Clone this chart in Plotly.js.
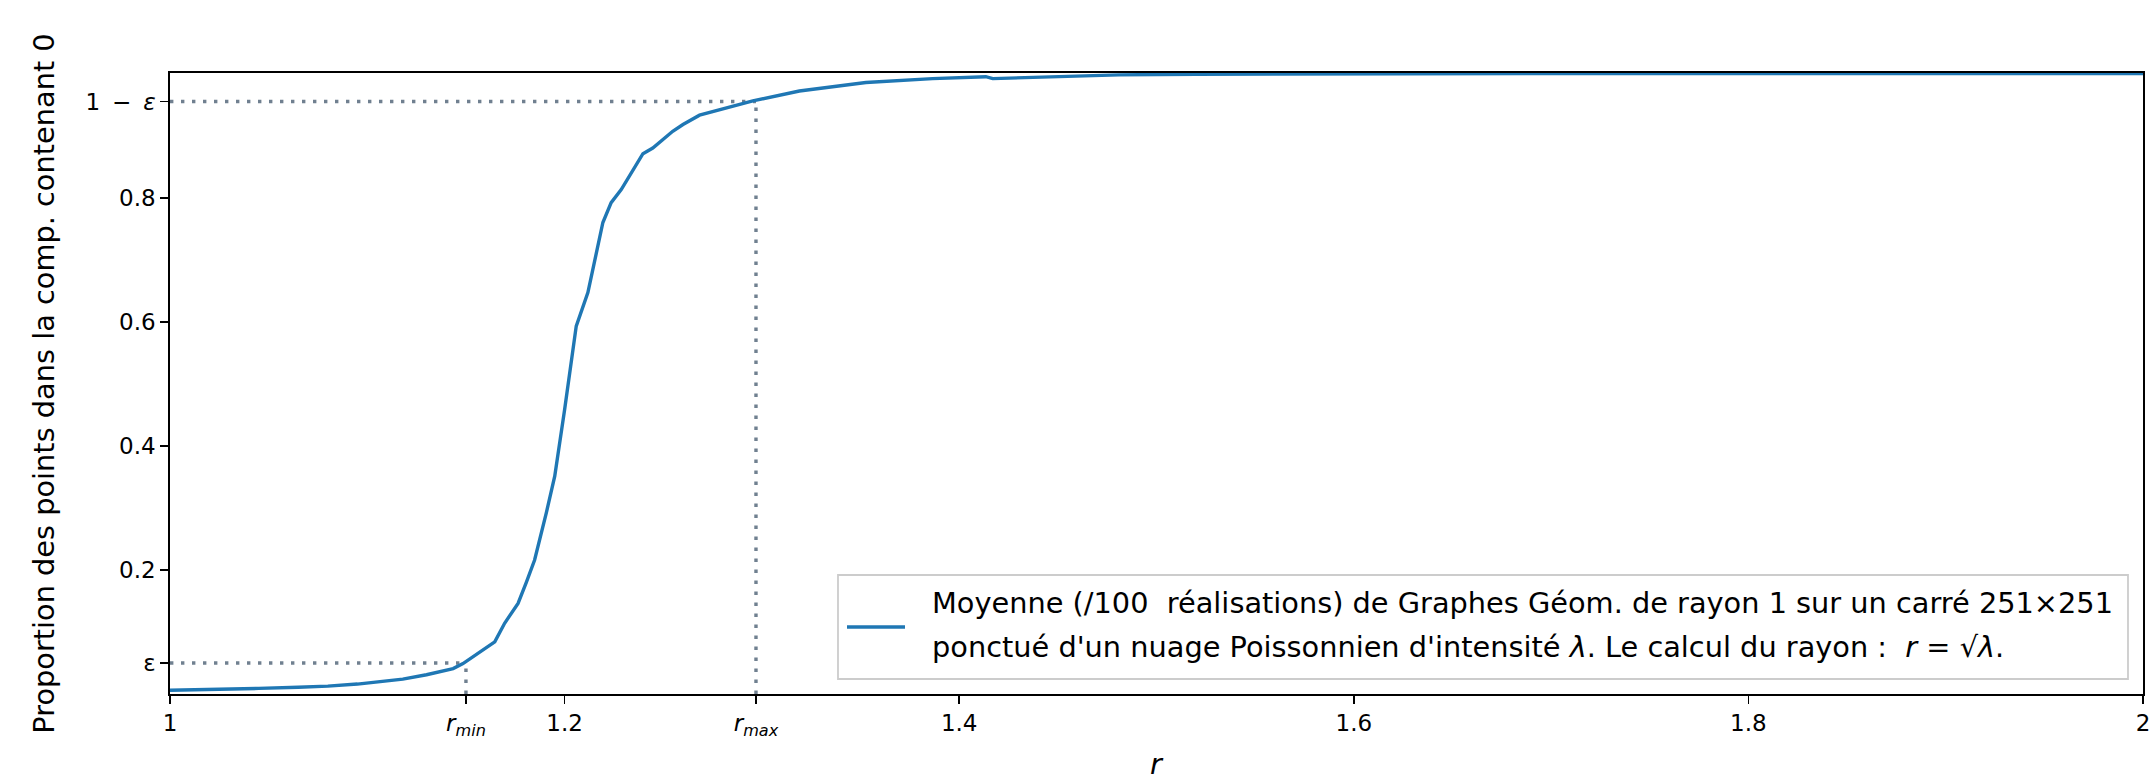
<!DOCTYPE html>
<html><head><meta charset="utf-8">
<script src="https://cdn.plot.ly/plotly-3.0.1.min.js"></script>
<style>html,body{margin:0;padding:0;background:#fff}</style>
</head><body><div id="chart" style="width:2150px;height:774px"></div>
<script>
// Data
const rValues = [1.000, 1.020, 1.045, 1.065, 1.080, 1.095, 1.105, 1.118, 1.130, 1.1435, 1.1485, 1.157, 1.1646, 1.1696, 1.1764, 1.1806, 1.1848, 1.1907, 1.195, 1.200, 1.2059, 1.2118, 1.2194, 1.2236, 1.2287, 1.2397, 1.2447, 1.2548, 1.2600, 1.2684, 1.2852, 1.2954, 1.3190, 1.3527, 1.3865, 1.4135, 1.4170, 1.4540, 1.4810, 1.5200, 1.5600, 1.6000, 1.7000, 1.8000, 1.9000, 2.0000];
const proportion = [0.006, 0.007, 0.009, 0.011, 0.0127, 0.016, 0.019, 0.024, 0.031, 0.041, 0.049, 0.068, 0.084, 0.114, 0.146, 0.180, 0.216, 0.2915, 0.351, 0.458, 0.593, 0.647, 0.760, 0.792, 0.813, 0.871, 0.880, 0.907, 0.918, 0.933, 0.948, 0.956, 0.972, 0.9856, 0.992, 0.995, 0.992, 0.996, 0.998, 0.999, 0.9995, 1.0, 1.0, 1.0, 1.0, 1.0];

const eps = 0.05;
const oneMinusEps = 0.955;
const rMin = 1.15;
const rMax = 1.297;

const xTickVals = [1, rMin, 1.2, rMax, 1.4, 1.6, 1.8, 2];
const xTickText = ['1', '<i>r<sub>min</sub></i>', '1.2', '<i>r<sub>max</sub></i>', '1.4', '1.6', '1.8', '2'];
const yTickVals = [eps, 0.2, 0.4, 0.6, 0.8, oneMinusEps];
const yTickText = ['ε', '0.2', '0.4', '0.6', '0.8', '1\u2009 − \u2009<i>ε</i>'];

const legendLine1 = 'Moyenne (/100  réalisations) de Graphes Géom. de rayon 1 sur un carré 251×251';
const legendLine2 = "ponctué d'un nuage Poissonnien d'intensité <i>λ</i>. Le calcul du rayon :  <i>r</i> = √<i>λ</i>.";
const yTitle = 'Proportion des points dans la comp. contenant 0';
const xTitle = '<i>r</i>';

// layout geometry (pixels)
const W = 2150, H = 774;
const L = 170, R = 2143, T = 73, B = 694;
const px = x => (x - L) / (R - L);
const py = y => (B - y) / (B - T);

const FONT = 'DejaVu Sans, sans-serif';
const FS = 23;       // tick labels
const FS_LEG = 28.8; // legend
const FS_TITLE = 28.8; // axis titles
const dotColor = 'rgb(112,128,144)';
const dotStyle = {color: dotColor, width: 3.4, dash: '3.4px,7.6px'};

const traces = [
  {x: [1, rMin], y: [eps, eps], mode: 'lines', line: dotStyle, showlegend: false, hoverinfo: 'skip'},
  {x: [rMin, rMin], y: [0, eps], mode: 'lines', line: dotStyle, showlegend: false, hoverinfo: 'skip'},
  {x: [1, rMax], y: [oneMinusEps, oneMinusEps], mode: 'lines', line: dotStyle, showlegend: false, hoverinfo: 'skip'},
  {x: [rMax, rMax], y: [0, oneMinusEps], mode: 'lines', line: dotStyle, showlegend: false, hoverinfo: 'skip'},
  {x: rValues, y: proportion, mode: 'lines', line: {color: '#1f77b4', width: 3.4}, showlegend: false, name: legendLine1}
];

const layout = {
  width: W, height: H,
  margin: {l: L, r: W - R, t: T, b: H - B, pad: 0},
  paper_bgcolor: '#fff', plot_bgcolor: '#fff',
  font: {family: FONT, size: FS, color: '#000'},
  xaxis: {
    range: [1, 2], tickmode: 'array', tickvals: xTickVals, ticktext: xTickText,
    showgrid: false, zeroline: false, showline: true, mirror: true, linecolor: '#000', linewidth: 1.8,
    ticks: 'outside', ticklen: 8, tickwidth: 1.8, tickcolor: '#000', ticklabeloverflow: 'allow',
    tickfont: {family: FONT, size: FS, color: '#000'}
  },
  yaxis: {
    range: [0, 1.001], tickmode: 'array', tickvals: yTickVals, ticktext: yTickText,
    showgrid: false, zeroline: false, showline: true, mirror: true, linecolor: '#000', linewidth: 1.8,
    ticks: 'outside', ticklen: 8, tickwidth: 1.8, tickcolor: '#000', ticklabeloverflow: 'allow',
    tickfont: {family: FONT, size: FS, color: '#000'},
    title: {text: yTitle, font: {family: FONT, size: FS_TITLE, color: '#000'}, standoff: 22}
  },
  shapes: [
    {type: 'rect', xref: 'paper', yref: 'paper', x0: px(838), x1: px(2128), y0: py(679), y1: py(575),
     line: {color: 'rgb(204,204,204)', width: 1.8}, fillcolor: 'rgba(255,255,255,0.8)', layer: 'above'},
    {type: 'line', xref: 'paper', yref: 'paper', x0: px(847), x1: px(905), y0: py(627), y1: py(627),
     line: {color: '#1f77b4', width: 3.4}, layer: 'above'}
  ],
  annotations: [
    {xref: 'paper', yref: 'paper', x: px(930), y: py(603), xanchor: 'left', yanchor: 'middle', showarrow: false,
     text: legendLine1, font: {family: FONT, size: FS_LEG, color: '#000'}},
    {xref: 'paper', yref: 'paper', x: px(930), y: py(647), xanchor: 'left', yanchor: 'middle', showarrow: false,
     text: legendLine2, font: {family: FONT, size: FS_LEG, color: '#000'}},
    {xref: 'paper', yref: 'paper', x: 0.5, y: py(764), xanchor: 'center', yanchor: 'middle', showarrow: false,
     text: xTitle, font: {family: FONT, size: FS_TITLE, color: '#000'}}
  ]
};

Plotly.newPlot('chart', traces, layout, {staticPlot: true, displayModeBar: false});
</script></body></html>
